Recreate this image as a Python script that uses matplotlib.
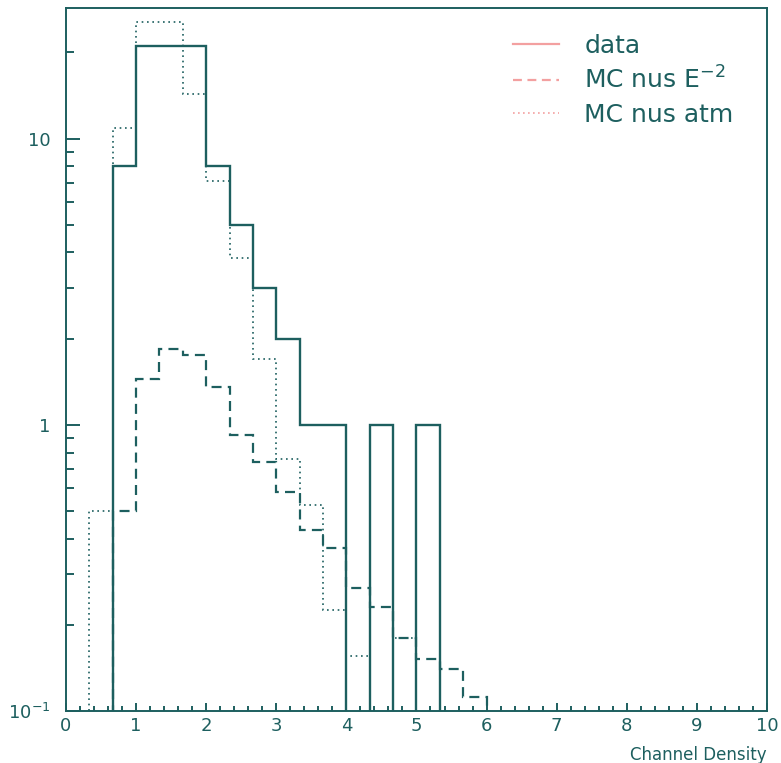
import numpy as np
import matplotlib
matplotlib.use('Agg')
import matplotlib.pyplot as plt
from matplotlib.lines import Line2D
from matplotlib.ticker import FixedLocator, FixedFormatter, LogLocator, NullFormatter

# histogram bins: 0..10 in steps of 1/3
edges = np.linspace(0, 10, 31)

# counts per bin (first 18 bins, rest empty)
data = [0, 0, 8, 21, 21, 21, 8, 5, 3, 2, 1, 1, 0, 1, 0, 1, 0, 0]
mc_e2 = [0, 0, 0.5, 1.44, 1.84, 1.75, 1.36, 0.92, 0.74, 0.58, 0.43, 0.37,
         0.27, 0.23, 0.18, 0.152, 0.14, 0.112]
mc_atm = [0, 0.5, 10.9, 25.5, 25.5, 14.3, 7.1, 3.84, 1.70, 0.76, 0.525, 0.225,
          0.156, 0, 0.18, 0, 0, 0]

labels = ['data', 'MC nus E$^{-2}$', 'MC nus atm']
ytick_vals = [0.1, 1, 10]
ytick_text = ['$10^{-1}$', '1', '10']

col = '#1d5f5f'
legcol = '#f3a0a0'


def full(v):
    a = np.zeros(len(edges) - 1)
    a[:len(v)] = v
    # zero bins drawn below the frame, like ROOT does
    return np.where(a > 0, a, 1e-3)


fig = plt.figure(figsize=(7.81, 7.63), dpi=100)
ax = fig.add_axes([0.0845, 0.0682, 0.8975, 0.9213])
ax.set_yscale('log')

ax.stairs(full(mc_atm), edges, baseline=None, color=col, lw=1.2,
          linestyle=(0, (1, 2.2)))
ax.stairs(full(mc_e2), edges, baseline=None, color=col, lw=1.6,
          linestyle=(0, (4.5, 2.8)))
ax.stairs(full(data), edges, baseline=None, color=col, lw=1.7)

ax.set_xlim(0, 10)
ax.set_ylim(0.1, 28.6)

ax.xaxis.set_major_locator(FixedLocator(np.arange(0, 11)))
ax.xaxis.set_minor_locator(FixedLocator(np.arange(0, 10.01, 0.2)))
ax.yaxis.set_major_locator(FixedLocator(ytick_vals))
ax.yaxis.set_major_formatter(FixedFormatter(ytick_text))
ax.yaxis.set_minor_locator(LogLocator(base=10, subs=np.arange(2, 10)))
ax.yaxis.set_minor_formatter(NullFormatter())

ax.tick_params(axis='both', which='both', direction='in', color=col,
               labelcolor=col, width=1.4, top=False, right=False)
ax.tick_params(axis='x', which='major', length=6, labelsize=13, pad=4)
ax.tick_params(axis='x', which='minor', length=3.5)
ax.tick_params(axis='y', which='major', length=10, labelsize=13, pad=11)
ax.tick_params(axis='y', which='minor', length=5.5)
for s in ax.spines.values():
    s.set_color(col)
    s.set_linewidth(1.4)

ax.set_xlabel('Channel Density', loc='right', fontsize=12, color=col,
              labelpad=8)

handles = [Line2D([], [], color=legcol, lw=1.6),
           Line2D([], [], color=legcol, lw=1.6, linestyle=(0, (4, 2.5))),
           Line2D([], [], color=legcol, lw=1.2, linestyle=(0, (1, 2)))]
ax.legend(handles, labels, loc='upper left', bbox_to_anchor=(0.62, 0.981),
          frameon=False, fontsize=18, labelcolor=col, handlelength=1.85,
          handletextpad=1.0, labelspacing=0.36, borderpad=0)

plt.savefig('out.png', dpi=100)
print('Generated out.png.')
